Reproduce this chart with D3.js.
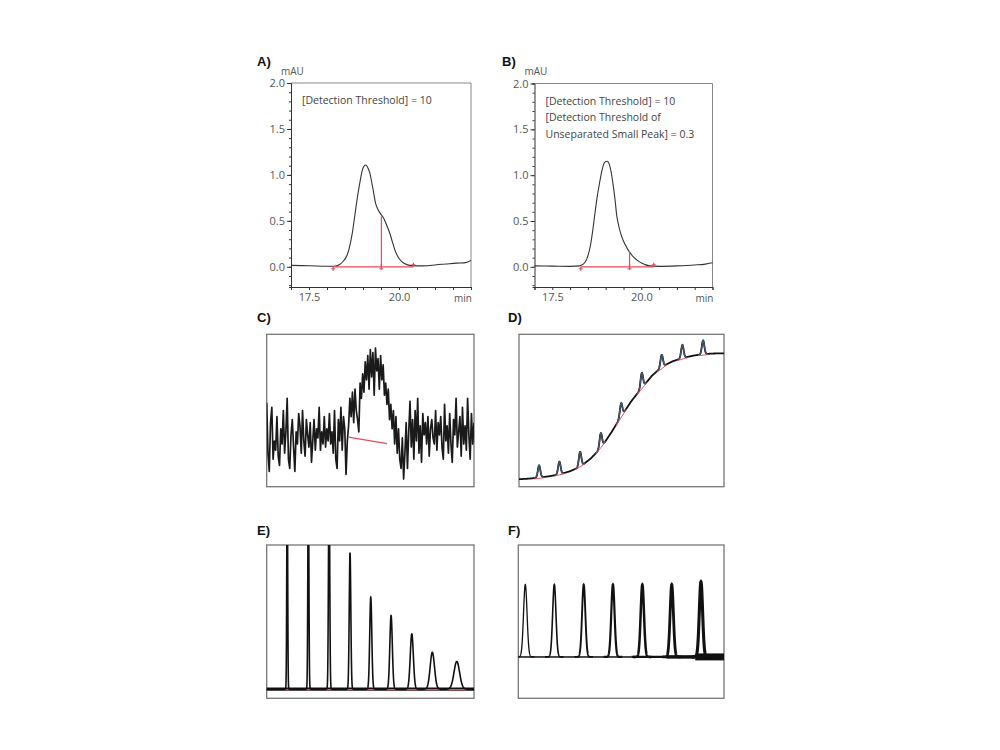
<!DOCTYPE html>
<html><head><meta charset="utf-8">
<script src="https://cdn.jsdelivr.net/npm/d3@7"></script>
<style>body{margin:0;background:#fff} svg{display:block}</style>
</head><body>
<svg id="c" width="1000" height="750"></svg>
<script>
// ---------- DATA ----------
const yTickLabels = ["0.0","0.5","1.0","1.5","2.0"];
const xTickLabels = ["17.5","20.0"];
const annotA = ["[Detection Threshold] = 10"];
const annotB = ["[Detection Threshold] = 10","[Detection Threshold of","Unseparated Small Peak] = 0.3"];

// Panel A chromatogram (min, mAU)
const aTime = [17.0,17.5,18.0,18.2,18.35,18.45,18.55,18.61,18.7,18.77,18.85,18.91,18.98,19.04,19.08,19.13,19.19,19.28,19.35,19.42,19.5,19.56,19.65,19.74,19.81,19.88,19.97,20.07,20.18,20.3,20.5,20.8,21.0,21.3,21.6,21.85,22.0];
const aMAU  = [0.015,0.012,0.005,0.005,0.025,0.06,0.12,0.19,0.36,0.55,0.77,0.91,1.05,1.10,1.108,1.08,1.02,0.84,0.69,0.62,0.57,0.54,0.46,0.37,0.28,0.19,0.11,0.06,0.03,0.015,0.01,0.012,0.02,0.03,0.04,0.045,0.07];
const aIntegration = {start:18.17, drop:19.51, dropTop:0.55, end:20.4};

// Panel B chromatogram
const bTime = [17.0,17.5,18.0,18.27,18.42,18.5,18.57,18.63,18.69,18.76,18.83,18.9,18.97,19.04,19.1,19.15,19.2,19.26,19.31,19.37,19.44,19.55,19.67,19.8,19.95,20.1,20.23,20.5,21.0,21.5,21.8,22.0];
const bMAU  = [0.01,0.008,0.005,0.01,0.05,0.12,0.23,0.38,0.56,0.76,0.92,1.06,1.14,1.152,1.12,1.04,0.92,0.74,0.56,0.44,0.34,0.24,0.16,0.1,0.054,0.025,0.01,0.005,0.01,0.02,0.03,0.045];
const bIntegration = {start:18.3, drop:19.67, dropTop:0.17, end:20.35};

// Panel C noisy signal (arbitrary units 0-100)
const cSignal = [55,22,10,42,52,18,30,24,46,20,14,38,28,50,22,36,58,18,12,34,44,26,10,36,28,48,40,22,50,30,20,44,34,26,42,16,30,44,24,38,32,52,24,36,28,46,26,38,30,48,28,36,22,50,18,12,44,30,52,24,46,38,8,30,
40,58,46,62,42,64,50,44,36,68,58,74,62,82,70,86,64,90,72,88,60,91,76,84,64,86,70,80,60,68,
54,64,44,54,38,50,28,46,22,38,18,12,32,5,22,42,12,
36,56,26,44,18,50,30,58,22,40,16,48,34,42,28,46,20,38,44,32,28,50,24,42,34,46,26,18,54,30,40,22,48,28,16,44,34,58,26,36,46,20,52,28,40,24,58,34,18,48,28,42];
const cBaseline = [[64,32.5],[94,28.3]];

// Panel D drifting baseline + peaks
const dBaseX = [0,5,10,15,20,25,30,35,40,45,50,55,60,65,70,75,80,85,90,95,100];
const dBaseY = [4.9,5.3,6.0,6.9,8.2,10.2,13.2,18.5,25.5,35.5,46.5,56.5,65.0,73.0,79.0,82.3,84.5,86.0,87.0,87.4,87.5];
const dPeakX = [9.8,19.7,29.8,39.9,49.8,59.9,69.6,79.7,89.8];
const dPeakH = [8.0,8.3,9.8,9.8,8.7,9.8,8.0,8.7,9.0];
const dPeakW = [0.6,0.6,0.6,0.6,0.6,0.6,0.6,0.6,0.6];

// Panel E broadening peaks
const eBase = 6;
const ePeakX = [9.9,20.1,30.1,40.2,50.2,60.0,70.0,79.9,91.7];
const ePeakH = [140,140,140,89,60,48,36,24,18];
const ePeakW = [0.22,0.25,0.3,0.38,0.5,0.6,0.75,1.05,1.35];

// Panel F equal peaks with growing noise
const fBase = 27;
const fPeakX = [3.4,17.5,31.8,46.0,60.3,74.6,88.8];
const fPeakH = [47.3,47.3,47.3,47.3,47.3,47.3,49.0];
const fPeakW = [0.85,0.8,0.8,0.8,0.8,0.8,0.8];

// ---------- DRAW ----------
const svg = d3.select("#c");
const RED = "#e34b5b";
const FONT = "'Open Sans', 'DejaVu Sans', sans-serif";
const defs = svg.append("defs");

function panelLabel(x, y, t) {
  svg.append("text").attr("x", x).attr("y", y).text(t)
    .attr("font-family", "Arial, 'Liberation Sans', sans-serif").attr("font-weight", "bold")
    .attr("font-size", 13).attr("fill", "#111");
}

function chromPanel(left, top, right, bottom, times, vals, integ, annot, label, labelX) {
  const g = svg.append("g");
  const x = d3.scaleLinear().domain([17.0, 22.0]).range([left, right]);
  const y = d3.scaleLinear().domain([-0.22, 2.0]).range([bottom, top]);
  g.append("path").attr("d", `M${left},${top}H${right}V${bottom}`)
    .attr("fill", "none").attr("stroke", "#888").attr("stroke-width", 1);
  const minorY = d3.range(-2, 21).map(d => d / 10);
  g.append("g").attr("transform", `translate(${left},0)`)
    .call(d3.axisLeft(y).tickValues(minorY).tickSize(2).tickFormat(""))
    .call(s => s.selectAll("line,path").attr("stroke", "#333"));
  g.append("g").attr("transform", `translate(${left},0)`)
    .call(d3.axisLeft(y).tickValues(yTickLabels.map(Number)).tickSize(4).tickPadding(2).tickFormat((d, i) => yTickLabels[i]))
    .call(s => s.select(".domain").remove())
    .call(s => s.selectAll("line").attr("stroke", "#333"))
    .call(s => s.selectAll("text").attr("font-family", FONT).attr("font-size", 11).attr("fill", "#555"));
  const minorX = d3.range(17.0, 22.01, 0.5);
  g.append("g").attr("transform", `translate(0,${bottom})`)
    .call(d3.axisBottom(x).tickValues(minorX).tickSize(3).tickFormat(""))
    .call(s => s.selectAll("line,path").attr("stroke", "#333"));
  g.append("g").attr("transform", `translate(0,${bottom})`)
    .call(d3.axisBottom(x).tickValues(xTickLabels.map(Number)).tickSize(0).tickPadding(6).tickFormat((d, i) => xTickLabels[i]))
    .call(s => s.select(".domain").remove())
    .call(s => s.selectAll("text").attr("font-family", FONT).attr("font-size", 11).attr("fill", "#555"));
  g.append("text").attr("x", right + 1).attr("y", bottom + 15).attr("text-anchor", "end")
    .attr("font-family", FONT).attr("font-size", 10).attr("fill", "#555").text("min");
  g.append("text").attr("x", left - 10).attr("y", top - 8.5)
    .attr("font-family", FONT).attr("font-size", 10).attr("fill", "#555").text("mAU");
  annot.forEach((t, i) => g.append("text").attr("x", left + 11).attr("y", top + 21 + i * 16.5)
    .attr("font-family", FONT).attr("font-size", 10.5).attr("fill", "#444").text(t));
  const line = d3.line().x((d, i) => x(times[i])).y(d => y(d)).curve(d3.curveMonotoneX);
  g.append("path").datum(vals).attr("d", line).attr("fill", "none")
    .attr("stroke", "#333").attr("stroke-width", 1.1);
  g.append("line").attr("x1", x(integ.start)).attr("x2", x(integ.end)).attr("y1", y(0)).attr("y2", y(0))
    .attr("stroke", RED).attr("stroke-width", 1.2);
  g.append("line").attr("x1", x(integ.drop)).attr("x2", x(integ.drop)).attr("y1", y(0)).attr("y2", y(integ.dropTop))
    .attr("stroke", RED).attr("stroke-width", 1.2);
  [integ.start, integ.drop, integ.end].forEach((t, i) => {
    const dy = i === 0 ? [0, 4] : i === 1 ? [-3, 3] : [-4, 0];
    g.append("line").attr("x1", x(t)).attr("x2", x(t)).attr("y1", y(0) + dy[0]).attr("y2", y(0) + dy[1])
      .attr("stroke", RED).attr("stroke-width", 1.2);
    g.append("line").attr("x1", x(t) - 2).attr("x2", x(t) + 2).attr("y1", y(0) + (i === 2 ? -2 : 2)).attr("y2", y(0) + (i === 2 ? -2 : 2))
      .attr("stroke", RED).attr("stroke-width", 1);
  });
  panelLabel(labelX, 66, label);
}

chromPanel(291, 83, 471, 287, aTime, aMAU, aIntegration, annotA, "A)", 257);
chromPanel(534.5, 83.5, 712.5, 287, bTime, bMAU, bIntegration, annotB, "B)", 502);

function frame(left, top, right, bottom, id) {
  defs.append("clipPath").attr("id", id).append("rect")
    .attr("x", left).attr("y", top).attr("width", right - left).attr("height", bottom - top);
  svg.append("rect").attr("x", left).attr("y", top).attr("width", right - left).attr("height", bottom - top)
    .attr("fill", "none").attr("stroke", "#777").attr("stroke-width", 1.3);
}

// ---- C ----
(function () {
  const L = 266.7, T = 334.3, R = 474, B = 486.7;
  const x = d3.scaleLinear().domain([0, cSignal.length - 1]).range([L, R]);
  const y = d3.scaleLinear().domain([0, 100]).range([B, T]);
  frame(L, T, R, B, "clipC");
  svg.append("path").datum(cSignal).attr("clip-path", "url(#clipC)")
    .attr("d", d3.line().x((d, i) => x(i)).y(d => y(d)))
    .attr("fill", "none").attr("stroke", "#1a1a1a").attr("stroke-width", 1.7).attr("stroke-linejoin", "round");
  svg.append("line").attr("x1", x(cBaseline[0][0])).attr("y1", y(cBaseline[0][1]))
    .attr("x2", x(cBaseline[1][0])).attr("y2", y(cBaseline[1][1]))
    .attr("stroke", RED).attr("stroke-width", 1.3);
  panelLabel(257, 322, "C)");
})();

function gaussSum(xv, px, ph, pw) {
  let s = 0;
  for (let k = 0; k < px.length; k++) s += ph[k] * Math.exp(-0.5 * Math.pow((xv - px[k]) / pw[k], 2));
  return s;
}

// ---- D ----
(function () {
  const L = 519, T = 334.3, R = 724, B = 486.7;
  const x = d3.scaleLinear().domain([0, 100]).range([L, R]);
  const y = d3.scaleLinear().domain([0, 100]).range([B, T]);
  const base = d3.scaleLinear().domain(dBaseX).range(dBaseY);
  frame(L, T, R, B, "clipD");
  const pts = d3.range(0, 100.001, 0.1);
  svg.append("path").datum(pts).attr("clip-path", "url(#clipD)")
    .attr("d", d3.line().x(d => x(d)).y(d => y(base(d) + gaussSum(d, dPeakX, dPeakH, dPeakW))))
    .attr("fill", "none").attr("stroke", "#111").attr("stroke-width", 1.8);
  dPeakX.forEach((c, k) => {
    const seg = d3.range(c - 2.2, c + 2.21, 0.1);
    svg.append("path").datum(seg)
      .attr("d", d3.line().x(d => x(d)).y(d => y(base(d) + dPeakH[k] * Math.exp(-0.5 * Math.pow((d - c) / dPeakW[k], 2)))))
      .attr("fill", "none").attr("stroke", "#46566a").attr("stroke-width", 1.4);
    svg.append("line").attr("x1", x(c - 2.5)).attr("y1", y(base(c - 2.5)) + 0.8)
      .attr("x2", x(c + 2.5)).attr("y2", y(base(c + 2.5)) + 0.8)
      .attr("stroke", RED).attr("stroke-width", 1).attr("opacity", 0.9);
  });
  panelLabel(508, 322, "D)");
})();

// ---- E ----
(function () {
  const L = 266.7, T = 545, R = 474, B = 698.3;
  const x = d3.scaleLinear().domain([0, 100]).range([L, R]);
  const y = d3.scaleLinear().domain([0, 100]).range([B, T]);
  frame(L, T, R, B, "clipE");
  const pts = d3.range(0, 100.001, 0.02);
  svg.append("line").attr("x1", L).attr("x2", R).attr("y1", y(eBase)).attr("y2", y(eBase))
    .attr("stroke", "#111").attr("stroke-width", 3.2);
  ePeakX.forEach((c, k) => {
    svg.append("line").attr("x1", x(c - 3 * ePeakW[k] - 0.6)).attr("x2", x(c + 3 * ePeakW[k] + 0.6))
      .attr("y1", y(eBase) + 0.6).attr("y2", y(eBase) + 0.6).attr("stroke", RED).attr("stroke-width", 1.4);
  });
  svg.append("path").datum(pts).attr("clip-path", "url(#clipE)")
    .attr("d", d3.line().x(d => x(d)).y(d => y(eBase + gaussSum(d, ePeakX, ePeakH, ePeakW))))
    .attr("fill", "none").attr("stroke", "#111").attr("stroke-width", 1.6);
  panelLabel(257, 535, "E)");
})();

// ---- F ----
(function () {
  const L = 518.3, T = 545, R = 724, B = 698.3;
  const x = d3.scaleLinear().domain([0, 100]).range([L, R]);
  const y = d3.scaleLinear().domain([0, 100]).range([B, T]);
  frame(L, T, R, B, "clipF");
  svg.append("line").attr("x1", L).attr("x2", R).attr("y1", y(fBase) + 0.5).attr("y2", y(fBase) + 0.5)
    .attr("stroke", RED).attr("stroke-width", 1.2).attr("opacity", 0.8);
  const bands = [[0, 55, 1.4], [55, 72, 2.2], [72, 86, 3.5], [86, 100, 7]];
  bands.forEach(b => svg.append("line").attr("x1", x(b[0])).attr("x2", x(b[1]))
    .attr("y1", y(fBase)).attr("y2", y(fBase)).attr("stroke", "#111").attr("stroke-width", b[2]));
  fPeakX.forEach((c, k) => {
    const seg = d3.range(c - 4.5, c + 4.51, 0.05);
    svg.append("path").datum(seg).attr("clip-path", "url(#clipF)")
      .attr("d", d3.line().x(d => x(d)).y(d => y(fBase + fPeakH[k] * Math.exp(-0.5 * Math.pow((d - c) / fPeakW[k], 2)))))
      .attr("fill", "none").attr("stroke", "#111").attr("stroke-width", 1.3 + k * 0.3);
  });
  panelLabel(508, 535, "F)");
})();
</script>
</body></html>
